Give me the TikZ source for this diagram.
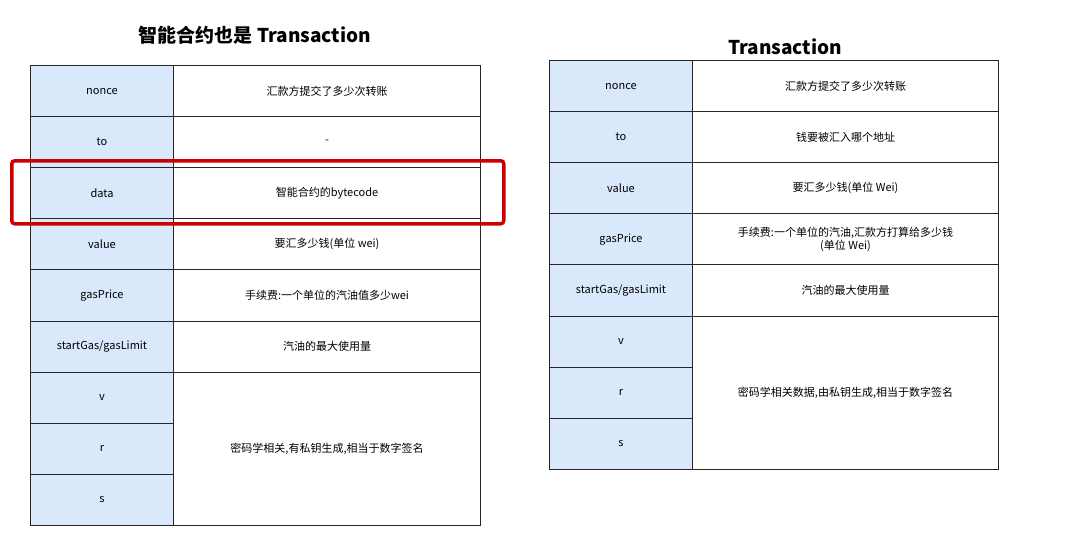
\documentclass[tikz,border=0pt]{standalone}
\usepackage{fontspec}
\setmainfont{Noto Sans CJK SC}
\definecolor{keyblue}{HTML}{DAE8FC}
\begin{document}
\begin{tikzpicture}[x=1pt,y=-1pt,
  keycell/.style={draw=black!85,line width=1pt,fill=keyblue,minimum width=143pt,anchor=north west,font=\fontsize{11}{13}\selectfont,inner sep=0pt},
  valcell/.style={draw=black!85,line width=1pt,fill=white,minimum width=307pt,anchor=north west,font=\fontsize{11}{13}\selectfont,align=center,inner sep=0pt},
  ttl/.style={font=\fontsize{19}{22}\selectfont\bfseries}]
\useasboundingbox (0,0) rectangle (1078,554);
\def\h{51.1}
\foreach \k [count=\i from 0] in {nonce,to,data,value,gasPrice,startGas/gasLimit,v,r,s}
  \node[keycell,minimum height=\h pt] (lk\i) at (30,65+\i*\h) {\k};
\node[valcell,minimum height=\h pt] (lv0) at (173,65) {汇款方提交了多少次转账};
\node[valcell,minimum height=\h pt] (lv1) at (173,65+\h) {-};
\node[valcell,minimum height=\h pt] (lv2) at (173,65+2*\h) {智能合约的bytecode};
\node[valcell,minimum height=\h pt] (lv3) at (173,65+3*\h) {要汇多少钱(单位 wei)};
\node[valcell,minimum height=\h pt] (lv4) at (173,65+4*\h) {手续费:一个单位的汽油值多少wei};
\node[valcell,minimum height=\h pt] (lv5) at (173,65+5*\h) {汽油的最大使用量};
\node[valcell,minimum height=3*\h pt] (lv6) at (173,65+6*\h) {密码学相关,有私钥生成,相当于数字签名};
\node[ttl] (lt) at (255,35) {智能合约也是 Transaction};
\node[draw=red!80!black,line width=3.5pt,rounded corners=3pt,minimum width=492pt,minimum height=63pt,anchor=north west] (hl) at (10,159) {};
\foreach \k [count=\i from 0] in {nonce,to,value,gasPrice,startGas/gasLimit,v,r,s}
  \node[keycell,minimum height=\h pt] (rk\i) at (549,60+\i*\h) {\k};
\node[valcell,minimum width=306pt,minimum height=\h pt] (rv0) at (692,60) {汇款方提交了多少次转账};
\node[valcell,minimum width=306pt,minimum height=\h pt] (rv1) at (692,60+\h) {钱要被汇入哪个地址};
\node[valcell,minimum width=306pt,minimum height=\h pt] (rv2) at (692,60+2*\h) {要汇多少钱(单位 Wei)};
\node[valcell,minimum width=306pt,minimum height=\h pt] (rv3) at (692,60+3*\h) {手续费:一个单位的汽油,汇款方打算给多少钱\\(单位 Wei)};
\node[valcell,minimum width=306pt,minimum height=\h pt] (rv4) at (692,60+4*\h) {汽油的最大使用量};
\node[valcell,minimum width=306pt,minimum height=3*\h pt] (rv5) at (692,60+5*\h) {密码学相关数据,由私钥生成,相当于数字签名};
\node[ttl] (rt) at (785,47) {Transaction};
\end{tikzpicture}
\end{document}
